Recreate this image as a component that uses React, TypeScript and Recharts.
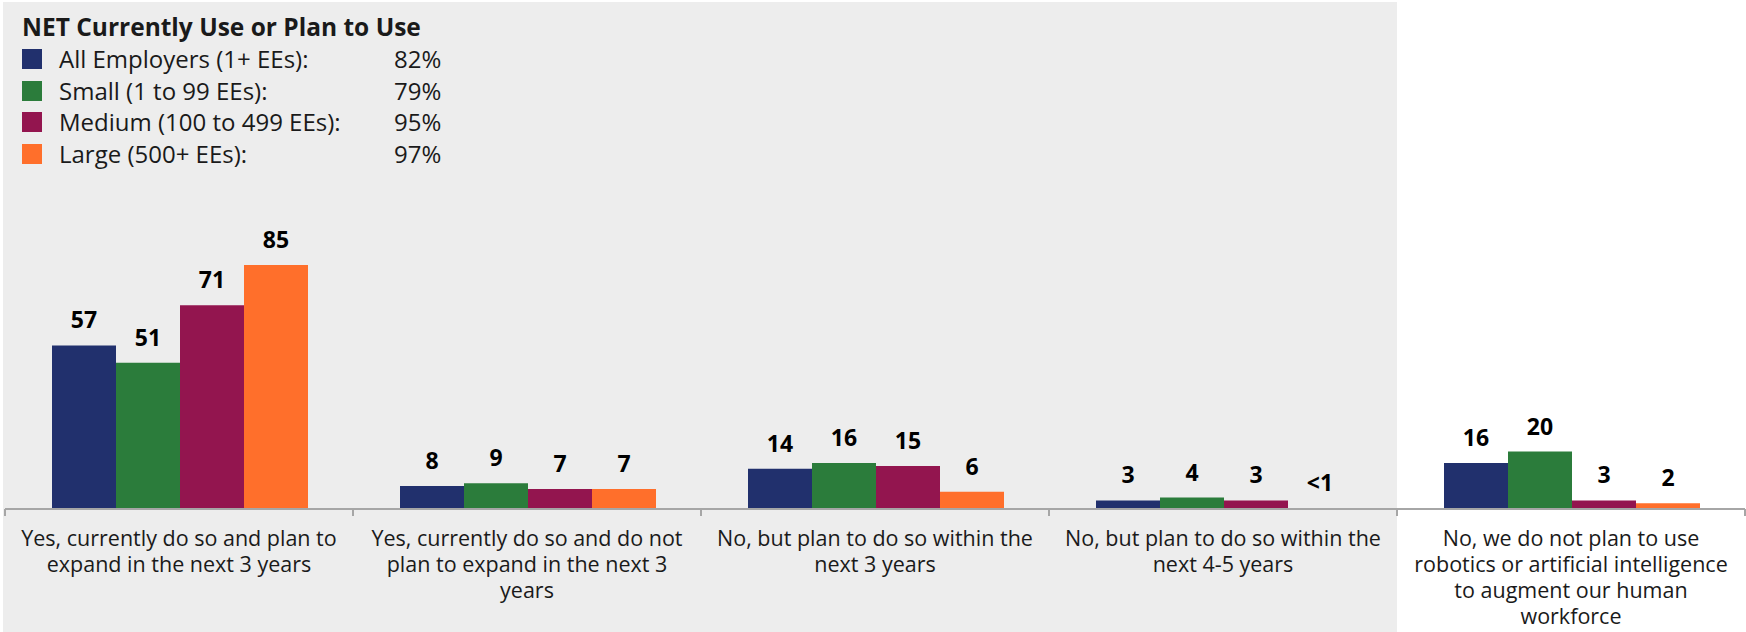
import { BarChart, Bar, XAxis, YAxis, LabelList } from "recharts";

// ─────────────────────────────────────────
// DATA
// ─────────────────────────────────────────

const categoryLines: string[][] = [
  ["Yes, currently do so and plan to", "expand in the next 3 years"],
  ["Yes, currently do so and do not", "plan to expand in the next 3", "years"],
  ["No, but plan to do so within the", "next 3 years"],
  ["No, but plan to do so within the", "next 4-5 years"],
  ["No, we do not plan to use", "robotics or artificial intelligence", "to augment our human", "workforce"],
];

const allEmployers = [57, 8, 14, 3, 16];
const small = [51, 9, 16, 4, 20];
const medium = [71, 7, 15, 3, 3];
const large = [85, 7, 6, 0.2, 2]; // 0.2 is the "<1" bar

const seriesNames = [
  "All Employers (1+ EEs):",
  "Small (1 to 99 EEs):",
  "Medium (100 to 499 EEs):",
  "Large (500+ EEs):",
];
const netValues = ["82%", "79%", "95%", "97%"];
const legendTitle = "NET Currently Use or Plan to Use";

// ─────────────────────────────────────────
// STYLE
// ─────────────────────────────────────────

const COLORS = ["#21306d", "#2b7c3b", "#93154f", "#ff6f2b"];
const FONT = "'Open Sans', sans-serif";
const TEXT = "#1a1a1a";
const W = 1746;
const H = 632;
const MARGIN = { top: 222, right: 1, bottom: 0, left: 5 };
const BAND = (W - MARGIN.left - MARGIN.right) / categoryLines.length;

const data = categoryLines.map((lines, i) => ({
  name: lines.join(" "),
  all: allEmployers[i],
  small: small[i],
  medium: medium[i],
  large: large[i],
}));

const keys = ["all", "small", "medium", "large"];

// custom tick: wrapped label + boundary tick marks
const CategoryTick = (props: any) => {
  const { x, y, index } = props;
  const lines = categoryLines[index] ?? [];
  const half = BAND / 2;
  return (
    <g>
      <line x1={x - half} y1={y} x2={x - half} y2={y + 7} stroke="#a6a6a6" strokeWidth={2} />
      {index === categoryLines.length - 1 && (
        <line x1={x + half} y1={y} x2={x + half} y2={y + 7} stroke="#a6a6a6" strokeWidth={2} />
      )}
      {lines.map((l, i) => (
        <text key={i} x={x} y={y + 37 + i * 26} textAnchor="middle" fontFamily={FONT} fontSize={21.5} fill={TEXT}>
          {l}
        </text>
      ))}
    </g>
  );
};

const formatValue = (v: any) => (Number(v) < 1 ? "<1" : v);

const Legend = () => (
  <div style={{ position: "absolute", left: 22, top: 0, fontFamily: FONT, color: TEXT }}>
    <div style={{ position: "absolute", top: 11, left: 0, whiteSpace: "nowrap", fontSize: 24.5, fontWeight: 700, lineHeight: "32px" }}>
      {legendTitle}
    </div>
    {seriesNames.map((n, i) => (
      <div
        key={n}
        style={{ position: "absolute", top: 44 + i * 31.7, left: 0, height: 30, width: 440, fontSize: 24, lineHeight: "30px", whiteSpace: "nowrap" }}
      >
        <span style={{ position: "absolute", left: 0, top: 5, width: 20, height: 20, background: COLORS[i] }} />
        <span style={{ position: "absolute", left: 37 }}>{n}</span>
        <span style={{ position: "absolute", left: 372 }}>{netValues[i]}</span>
      </div>
    ))}
  </div>
);

export default function App() {
  return (
    <div style={{ position: "absolute", left: 0, top: 0, width: W, height: H, background: "#ffffff", overflow: "hidden" }}>
      <div style={{ position: "absolute", left: 3, top: 2, width: 1394, height: 630, background: "#ededed" }} />
      <Legend />
      <div style={{ position: "absolute", left: 0, top: 0 }}>
        <BarChart width={W} height={H} data={data} margin={MARGIN} barCategoryGap={47} barGap={0}>
          <XAxis
            dataKey="name"
            interval={0}
            height={123}
            tickSize={0}
            tickMargin={0}
            tickLine={false}
            axisLine={{ stroke: "#a6a6a6", strokeWidth: 2 }}
            tick={<CategoryTick />}
          />
          <YAxis hide domain={[0, 100]} />
          {keys.map((k, i) => (
            <Bar key={k} dataKey={k} fill={COLORS[i]} isAnimationActive={false}>
              <LabelList
                dataKey={k}
                position="top"
                offset={17}
                formatter={formatValue}
                style={{ fontFamily: FONT, fontSize: 23, fontWeight: 700, fill: "#000000" }}
              />
            </Bar>
          ))}
        </BarChart>
      </div>
    </div>
  );
}
